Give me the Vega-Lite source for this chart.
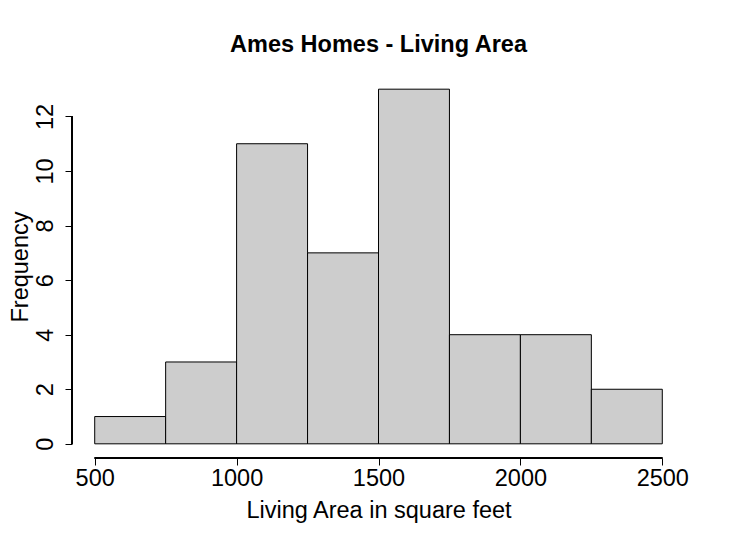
{
  "$schema": "https://vega.github.io/schema/vega-lite/v6.json",
  "autosize": {"type": "none"},
  "width": 613,
  "height": 383,
  "padding": {"left": 72, "top": 75, "right": 49, "bottom": 93},
  "background": "white",
  "config": {
    "view": {"stroke": null},
    "font": "Liberation Sans",
    "axis": {"grid": false, "domain": false, "tickColor": "black", "tickSize": 7, "tickWidth": 1, "labelColor": "black", "titleColor": "black", "labelFont": "Liberation Sans", "titleFont": "Liberation Sans", "labelFontSize": 23.5, "titleFontSize": 23.5, "titleFontWeight": "normal"}
  },
  "title": {"text": "Ames Homes - Living Area", "fontSize": 23.5, "fontWeight": "bold", "color": "black", "anchor": "middle", "offset": 19, "font": "Liberation Sans"},
  "data": {"values": [
    {"start": 500, "end": 750, "count": 1},
    {"start": 750, "end": 1000, "count": 3},
    {"start": 1000, "end": 1250, "count": 11},
    {"start": 1250, "end": 1500, "count": 7},
    {"start": 1500, "end": 1750, "count": 13},
    {"start": 1750, "end": 2000, "count": 4},
    {"start": 2000, "end": 2250, "count": 4},
    {"start": 2250, "end": 2500, "count": 2}
  ]},
  "layer": [
    {
      "mark": {"type": "bar", "fill": "#cdcdcd", "stroke": "black", "strokeWidth": 1},
      "encoding": {
        "x": {"field": "start", "type": "quantitative", "scale": {"domain": [420, 2580], "nice": false, "zero": false},
              "axis": {"values": [500, 1000, 1500, 2000, 2500], "format": "d", "title": "Living Area in square feet", "labelPadding": 1, "titlePadding": 9, "labelFlush": false, "labelOverlap": false}},
        "x2": {"field": "end"},
        "y": {"field": "count", "type": "quantitative", "scale": {"domain": [-0.52, 13.52], "nice": false, "zero": false},
              "axis": {"values": [0, 2, 4, 6, 8, 10, 12], "format": "d", "title": "Frequency", "labelAngle": -90, "labelPadding": 8, "titlePadding": 1, "labelFlush": false, "labelOverlap": false}},
        "y2": {"datum": 0}
      }
    },
    {
      "mark": {"type": "rule", "color": "black", "strokeWidth": 1},
      "encoding": {"x": {"datum": 500}, "x2": {"datum": 2500}, "y": {"datum": -0.52}}
    },
    {
      "mark": {"type": "rule", "color": "black", "strokeWidth": 1},
      "encoding": {"x": {"datum": 420}, "y": {"datum": 0}, "y2": {"datum": 12}}
    }
  ]
}
